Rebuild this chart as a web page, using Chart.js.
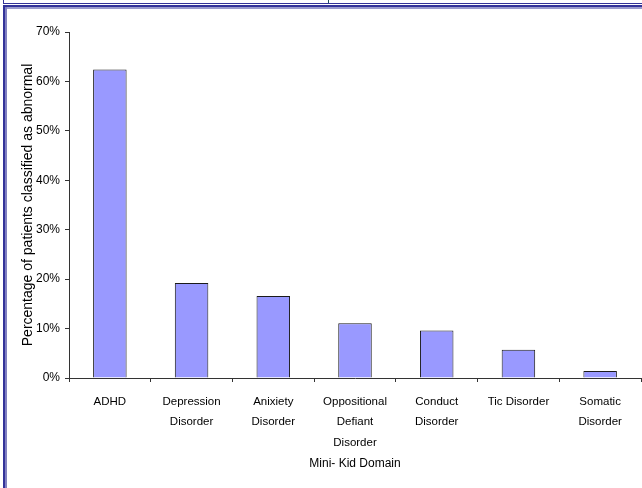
<!DOCTYPE html>
<html>
<head>
<meta charset="utf-8">
<script src="https://cdn.jsdelivr.net/npm/chart.js@4/dist/chart.umd.min.js"></script>
<style>
  html, body { margin: 0; padding: 0; background: #fff; }
  #c { display: block; }
</style>
</head>
<body>
<canvas id="c" width="642" height="488"></canvas>
<script>
// ---- data ----
const categories = [
  ['ADHD'],
  ['Depression', 'Disorder'],
  ['Anixiety', 'Disorder'],
  ['Oppositional', 'Defiant', 'Disorder'],
  ['Conduct', 'Disorder'],
  ['Tic Disorder'],
  ['Somatic', 'Disorder']
];
const percentAbnormal = [62.4, 19.2, 16.6, 11.1, 9.6, 5.7, 1.4];
const yTickValues = [0, 10, 20, 30, 40, 50, 60, 70];
const yAxisTitle = 'Percentage of patients classified as abnormal';
const xAxisTitle = 'Mini- Kid Domain';

const FONT = "'Liberation Sans', Arial, sans-serif";

const framePlugin = {
  id: 'frame',
  beforeDraw(chart) {
    const ctx = chart.ctx;
    const W = chart.width, H = chart.height;
    ctx.save();
    ctx.fillStyle = '#ffffff';
    ctx.fillRect(0, 0, W, H);
    // thin top box outline
    ctx.fillStyle = '#333399';
    ctx.fillRect(3, 0, 1, 4);
    ctx.fillRect(3, 3, W - 3, 1);
    ctx.fillStyle = '#1a4a5a';
    ctx.fillRect(328, 0, 1, 3);
    // thick top band
    ctx.fillStyle = '#333399';
    ctx.fillRect(3, 5, W - 3, 2);
    ctx.fillStyle = '#9a9acc';
    ctx.fillRect(5, 7, W - 5, 2);
    // thick left band
    ctx.fillStyle = '#333399';
    ctx.fillRect(3, 5, 2, H - 5);
    ctx.fillStyle = '#8080c0';
    ctx.fillRect(5, 7, 2, H - 7);
    ctx.restore();
  }
};

new Chart(document.getElementById('c'), {
  type: 'bar',
  data: {
    labels: categories,
    datasets: [{
      data: percentAbnormal,
      backgroundColor: '#9999ff',
      borderColor: '#1a1a1a',
      borderWidth: 1,
      barPercentage: 0.41,
      categoryPercentage: 1.0
    }]
  },
  options: {
    responsive: false,
    devicePixelRatio: 1,
    animation: false,
    layout: { padding: { left: 7, right: 1, top: 32, bottom: 0 } },
    plugins: {
      legend: { display: false },
      tooltip: { enabled: false }
    },
    scales: {
      x: {
        offset: true,
        afterFit(s) { s.height = 110; },
        grid: {
          offset: true,
          drawOnChartArea: false,
          tickLength: 4,
          color: '#333333'
        },
        border: { color: '#333333', width: 1 },
        ticks: {
          autoSkip: false,
          maxRotation: 0,
          minRotation: 0,
          padding: 9,
          color: '#000000',
          font: { family: FONT, size: 11.5, lineHeight: 1.8 }
        },
        title: {
          display: true,
          text: xAxisTitle,
          color: '#000000',
          font: { family: FONT, size: 12, lineHeight: 1.2 },
          padding: { top: 0, bottom: 16.8 }
        }
      },
      y: {
        min: 0,
        max: 70,
        afterFit(s) { s.width = 62; },
        afterBuildTicks(s) { s.ticks = yTickValues.map(v => ({ value: v })); },
        grid: {
          drawOnChartArea: false,
          tickLength: 4,
          color: '#333333'
        },
        border: { color: '#333333', width: 1 },
        ticks: {
          padding: 5,
          color: '#000000',
          font: { family: FONT, size: 12 },
          callback: v => v + '%'
        },
        title: {
          display: true,
          text: yAxisTitle,
          color: '#000000',
          font: { family: FONT, size: 14, lineHeight: 1.2 },
          padding: { top: 12.6, bottom: 0 }
        }
      }
    }
  },
  plugins: [framePlugin]
});
</script>
</body>
</html>
